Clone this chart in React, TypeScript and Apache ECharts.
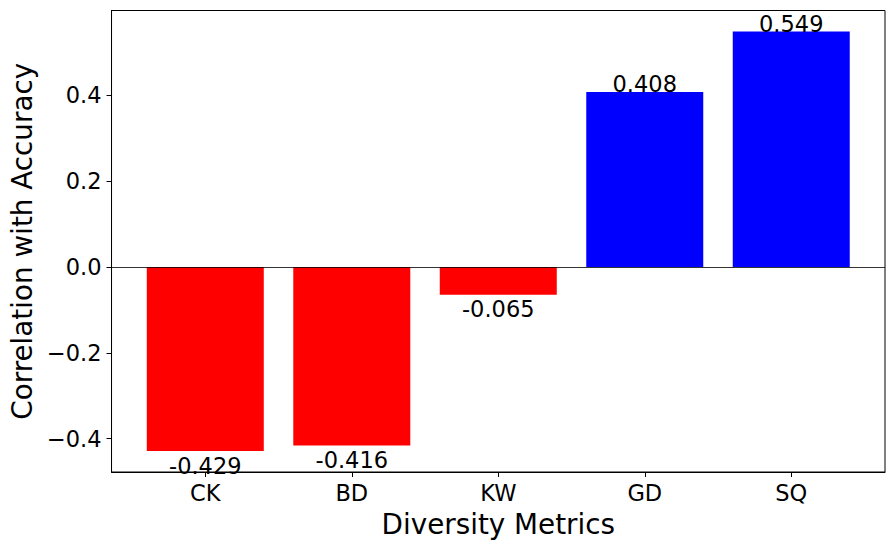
import React, { useEffect, useRef } from "react";
import * as echarts from "echarts";

const categories = ["CK", "BD", "KW", "GD", "SQ"];
const correlations = [-0.429, -0.416, -0.065, 0.408, 0.549];
const yTicks = [-0.4, -0.2, 0.0, 0.2, 0.4];
const xTitle = "Diversity Metrics";
const yTitle = "Correlation with Accuracy";

const FONT = "DejaVu Sans";

export default function App() {
  const ref = useRef<HTMLDivElement>(null);
  useEffect(() => {
    const chart = echarts.init(ref.current!, null, { renderer: "svg" });
    const xIdx = categories.map((_, i) => i);
    const option: any = {
      animation: false,
      backgroundColor: "#fff",
      grid: {
        left: 110.5,
        top: 10.5,
        right: 10,
        bottom: 77,
        show: true,
        borderColor: "#000",
        borderWidth: 1,
        containLabel: false,
      },
      xAxis: {
        type: "value",
        min: -0.64,
        max: 4.64,
        name: xTitle,
        nameLocation: "middle",
        nameGap: 38,
        nameTextStyle: { fontFamily: FONT, fontSize: 27.8, color: "#000" },
        axisLine: { show: true, onZero: false, lineStyle: { color: "#000", width: 1 } },
        axisTick: { show: true, inside: false, length: 5, customValues: xIdx, lineStyle: { color: "#000" } },
        axisLabel: {
          customValues: xIdx,
          formatter: (v: number) => categories[Math.round(v)] ?? "",
          fontFamily: FONT,
          fontSize: 22.5,
          color: "#000",
          margin: 9,
        },
        splitLine: { show: false },
      },
      yAxis: {
        type: "value",
        min: -0.4779,
        max: 0.5979,
        name: yTitle,
        nameLocation: "middle",
        nameGap: 62,
        nameTextStyle: { fontFamily: FONT, fontSize: 27.8, color: "#000" },
        axisLine: { show: true, onZero: false, lineStyle: { color: "#000", width: 1 } },
        axisTick: { show: true, inside: false, length: 5, customValues: yTicks, lineStyle: { color: "#000" } },
        axisLabel: {
          customValues: yTicks,
          formatter: (v: number) => v.toFixed(1).replace("-", "\u2212"),
          fontFamily: FONT,
          fontSize: 22.5,
          color: "#000",
          margin: 10,
        },
        splitLine: { show: false },
      },
      series: [
        {
          type: "bar",
          barWidth: 117,
          data: correlations.map((v, i) => ({
            value: [i, v],
            itemStyle: { color: v >= 0 ? "#0000ff" : "#ff0000" },
            label: {
              show: true,
              position: v >= 0 ? "top" : "bottom",
              distance: 0,
              offset: v >= 0 ? [0, 4] : [0, 3],
              formatter: String(v.toFixed(3)),
              fontFamily: FONT,
              fontSize: 22.5,
              color: "#000",
            },
          })),
          markLine: {
            silent: true,
            symbol: "none",
            label: { show: false },
            lineStyle: { color: "#000", width: 0.8, type: "solid" },
            data: [{ yAxis: 0 }],
          },
        },
      ],
    };
    chart.setOption(option);
    return () => chart.dispose();
  }, []);
  return (
    <div
      ref={ref}
      style={{ position: "absolute", left: 0, top: 0, width: 895, height: 549 }}
    />
  );
}
